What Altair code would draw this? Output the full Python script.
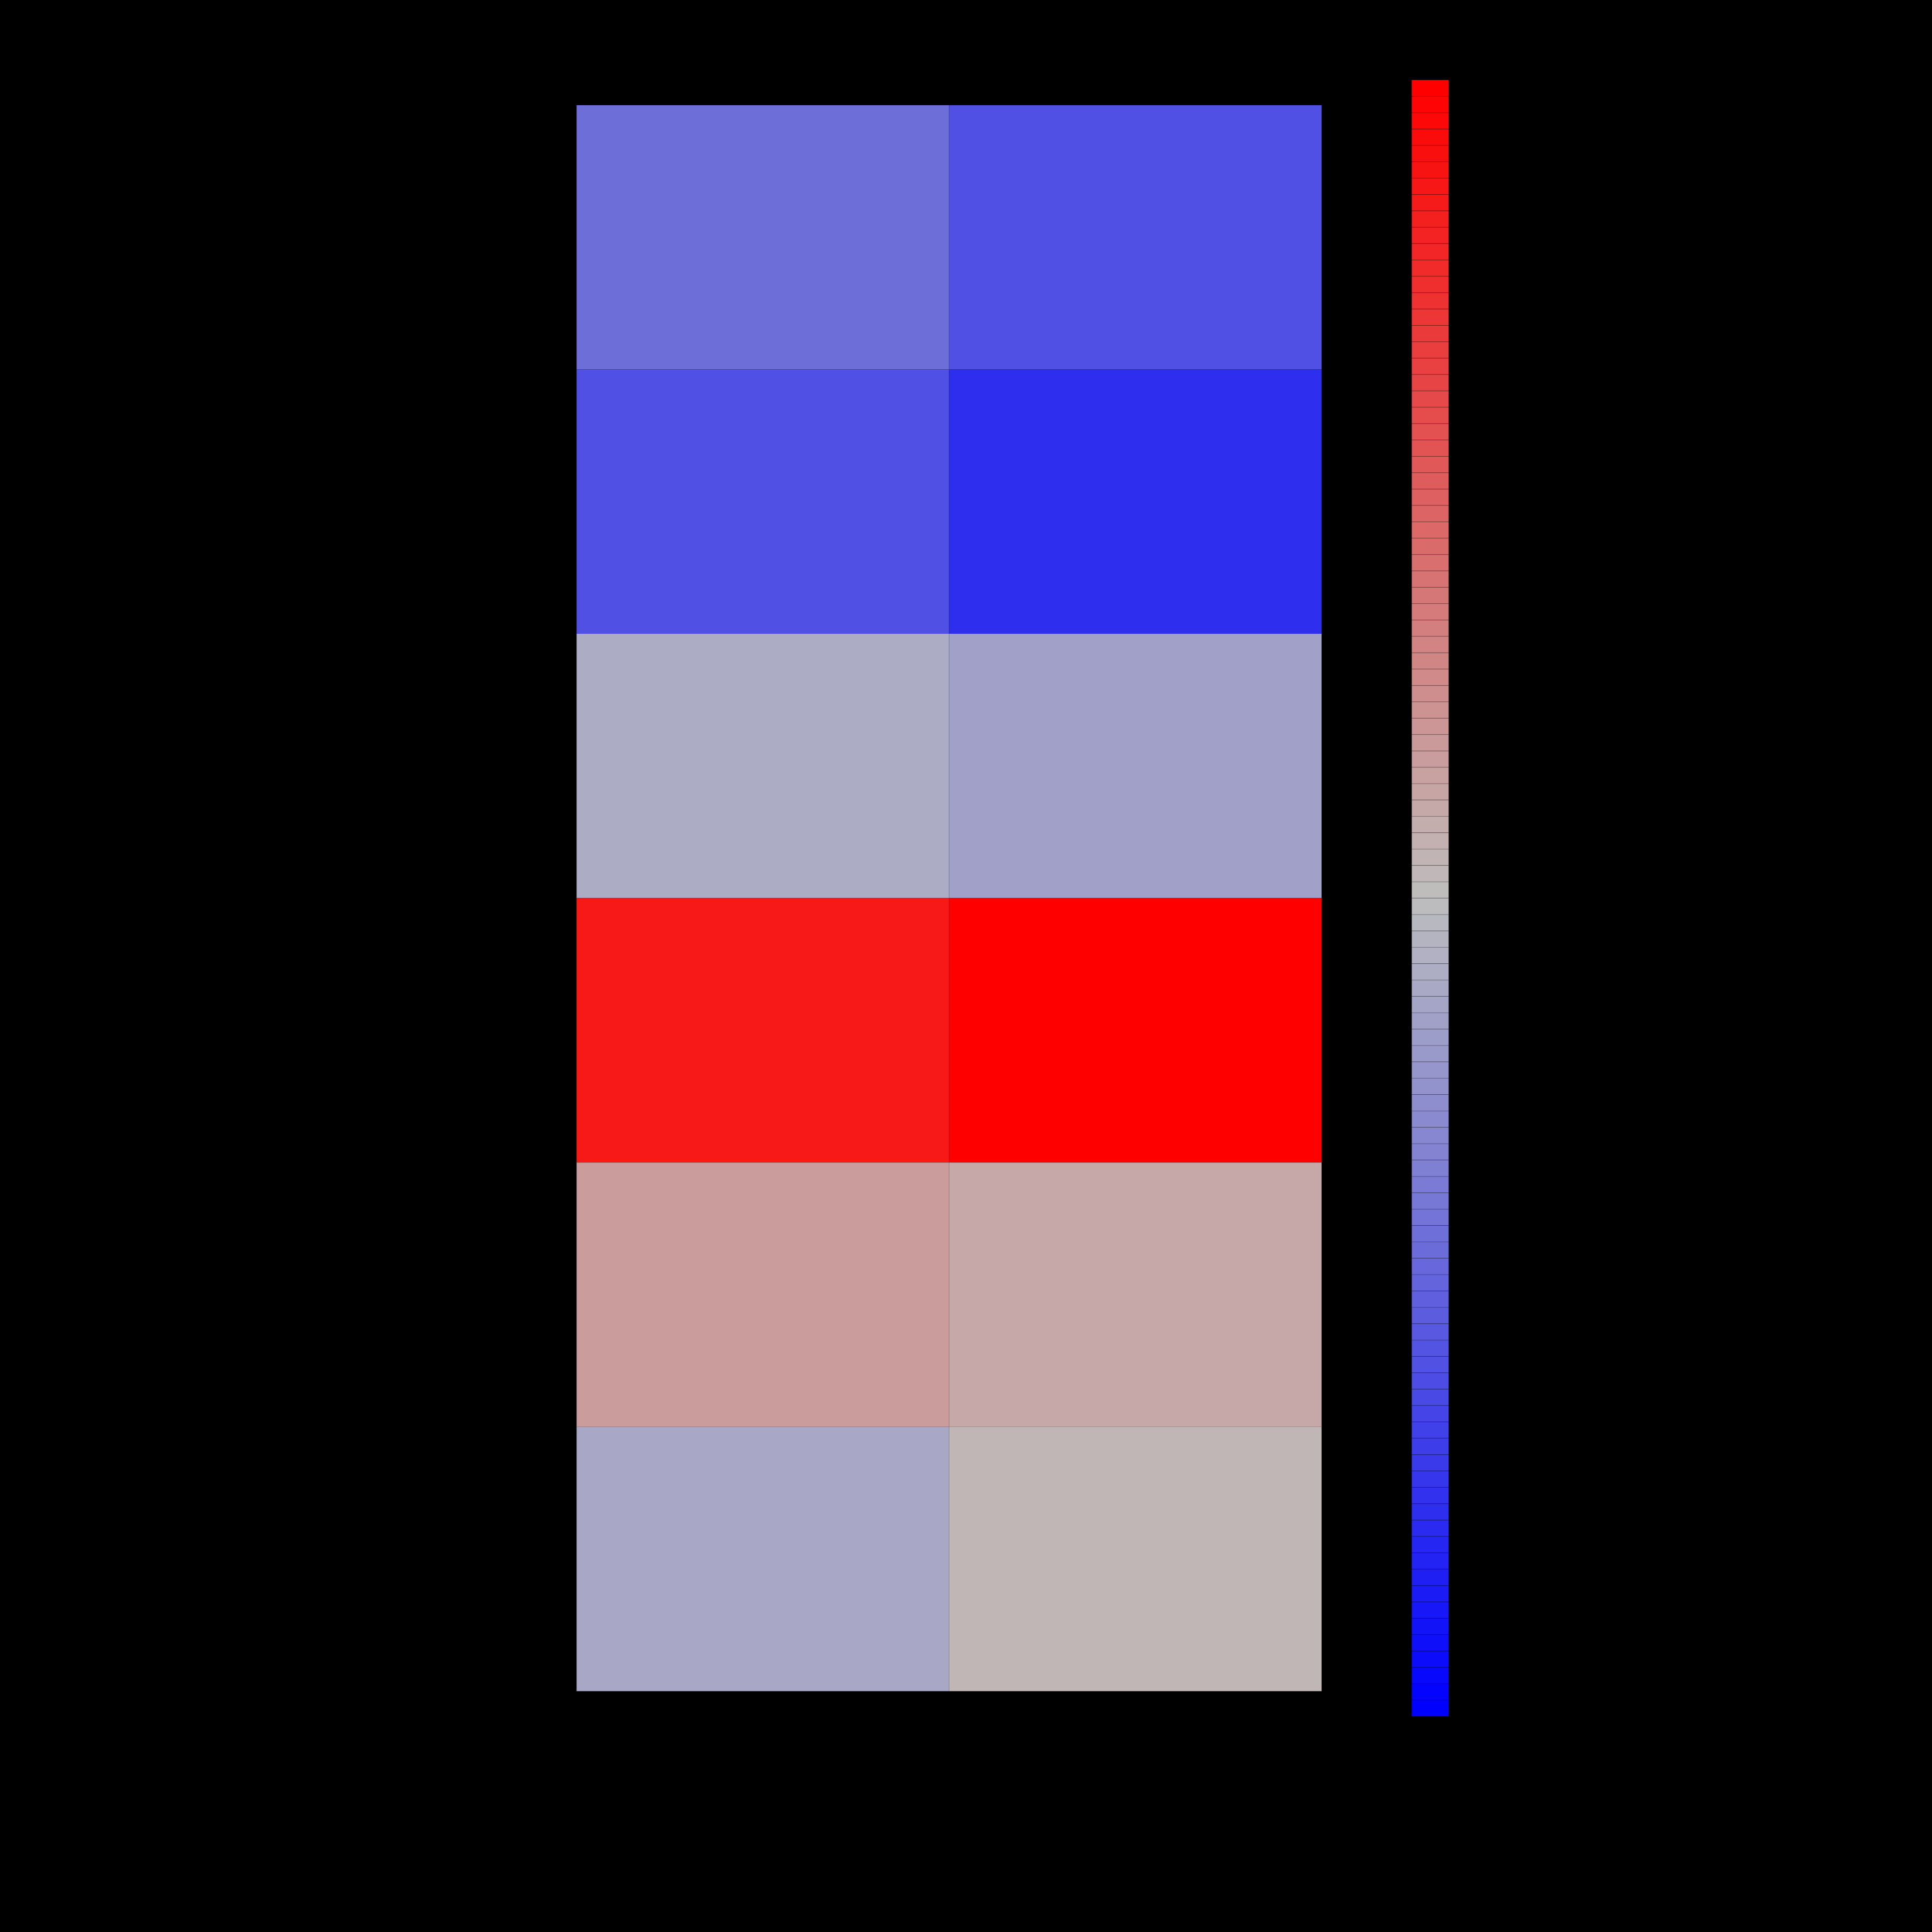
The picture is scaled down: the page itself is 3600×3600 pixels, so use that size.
import altair as alt
import pandas as pd

# Heatmap data (rows top to bottom, two columns)
rows = ["R1", "R2", "R3", "R4", "R5", "R6"]
cols = ["C1", "C2"]
col1_values = [-0.42, -0.58, -0.095, 0.874, 0.18, -0.116]
col2_values = [-0.58, -0.76, -0.16, 1.0, 0.116, 0.04]

# Colour key: 100 discrete bands from -1 (blue) to 1 (red)
n_bands = 100
band_values = [-1 + 2 * i / (n_bands - 1) for i in range(n_bands)]

cells = pd.DataFrame(
    [{"row": r, "col": cols[0], "value": v} for r, v in zip(rows, col1_values)]
    + [{"row": r, "col": cols[1], "value": v} for r, v in zip(rows, col2_values)]
)
key = pd.DataFrame({"band": list(range(n_bands)), "value": band_values})

color_scale = alt.Scale(
    domain=[-1, 0, 1],
    range=["#0000FF", "#BEBEBE", "#FF0000"],
    interpolate="rgb",
)

heat = (
    alt.Chart(cells)
    .mark_rect(strokeWidth=0)
    .encode(
        x=alt.X("col:N", sort=cols, axis=None,
                scale=alt.Scale(paddingInner=0, paddingOuter=0)),
        y=alt.Y("row:N", sort=rows, axis=None,
                scale=alt.Scale(paddingInner=0, paddingOuter=0.0954)),
        color=alt.Color("value:Q", scale=color_scale, legend=None),
    )
    .properties(width=1389, height=3051)
)

legend_bar = (
    alt.Chart(key)
    .mark_rect(stroke="#000000", strokeWidth=1, strokeOpacity=0.25)
    .encode(
        y=alt.Y("band:O", sort="descending", axis=None,
                scale=alt.Scale(paddingInner=0, paddingOuter=0)),
        color=alt.Color("value:Q", scale=color_scale, legend=None),
    )
    .properties(width=69, height=3051)
)

chart = (
    alt.hconcat(heat, legend_bar, spacing=167)
    .properties(
        background="black",
        padding={"left": 1075, "top": 147, "right": 900, "bottom": 402},
    )
    .configure_view(strokeWidth=0)
)

chart.save("out.html", embed_options={"renderer": "svg", "actions": False})
